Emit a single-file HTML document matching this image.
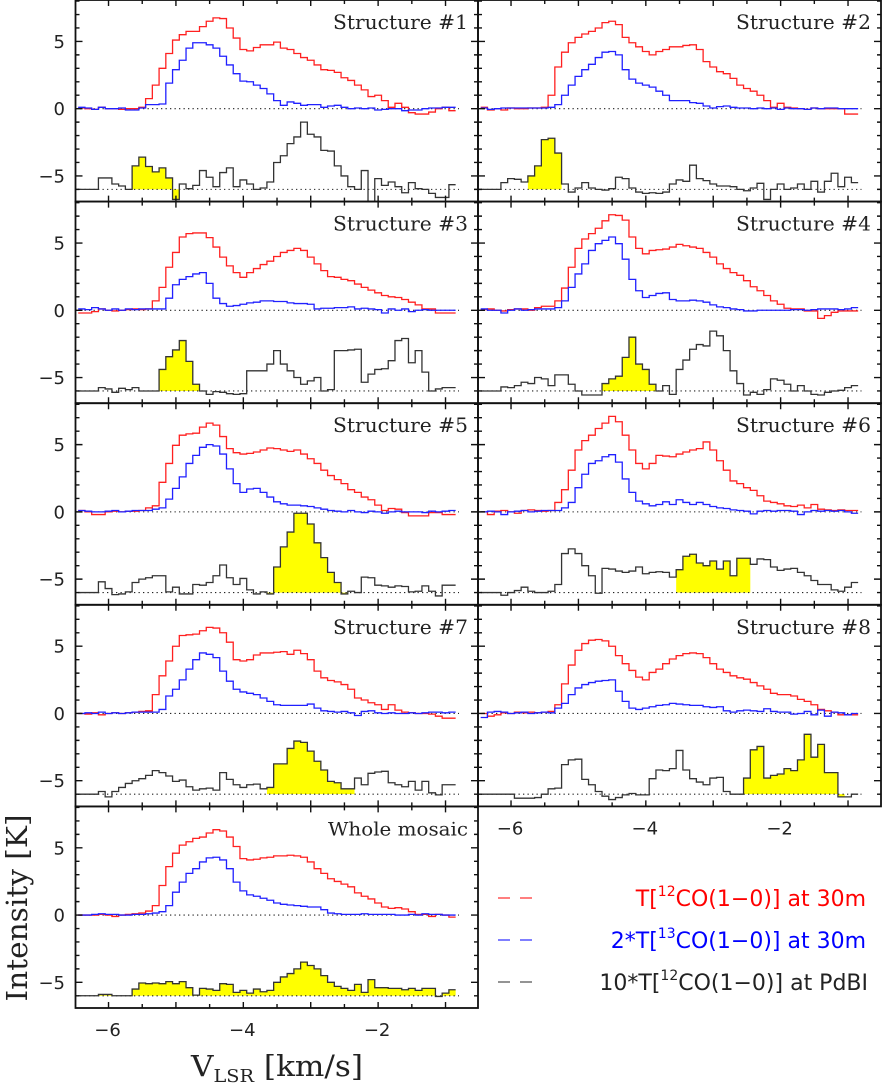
<!DOCTYPE html>
<html><head><meta charset="utf-8"><title>CO spectra</title>
<style>html,body{margin:0;padding:0;background:#fff}svg{display:block}
text{font-family:"DejaVu Sans","Liberation Sans",sans-serif}</style></head>
<body>
<svg id="chart" xmlns="http://www.w3.org/2000/svg" width="883" height="1086" viewBox="0 0 883 1086">
<rect x="0" y="0" width="883" height="1086" fill="#fff"/>
<text transform="translate(27,908) rotate(-90)" text-anchor="middle" font-size="29" textLength="187" lengthAdjust="spacingAndGlyphs" fill="#222" style="font-family:'DejaVu Serif','Liberation Serif',serif">Intensity [K]</text>
<text x="191" y="1076" font-size="29" fill="#222" textLength="172" lengthAdjust="spacingAndGlyphs" style="font-family:'DejaVu Serif','Liberation Serif',serif">V<tspan font-size="18" dy="6">LSR</tspan><tspan dy="-6"> [km/s]</tspan></text>
<g font-size="22">
 <line x1="498" y1="898" x2="532" y2="898" stroke="#f33" stroke-width="1.3" stroke-dasharray="12 10"/>
 <text x="866" y="906" text-anchor="end" fill="#f00">T[<tspan font-size="14" dy="-10">12</tspan><tspan dy="10">CO(1−0)] at 30m</tspan></text>
 <line x1="498" y1="940" x2="532" y2="940" stroke="#33f" stroke-width="1.3" stroke-dasharray="12 10"/>
 <text x="866" y="948" text-anchor="end" fill="#00f">2*T[<tspan font-size="14" dy="-10">13</tspan><tspan dy="10">CO(1−0)] at 30m</tspan></text>
 <line x1="498" y1="982" x2="532" y2="982" stroke="#555" stroke-width="1.3" stroke-dasharray="12 10"/>
 <text x="868" y="990" text-anchor="end" fill="#222">10*T[<tspan font-size="14" dy="-10">12</tspan><tspan dy="10">CO(1−0)] at PdBI</tspan></text>
</g>
</svg>
<script>
// ---- data: channel values (K), channels of 0.1 km/s starting at -6.45 km/s ----
const titles = ["Structure #1","Structure #2","Structure #3","Structure #4","Structure #5","Structure #6","Structure #7","Structure #8","Whole mosaic"];
const yTickLabels = [5, 0, -5];
const xTickLabels = [-6, -4, -2];
const red1 = [0.05,0,-0.05,0.1,0,0,-0.05,0,0,0.1,0.75,1.75,3.0,4.1,5.1,5.5,5.75,5.75,6.1,6.5,6.75,6.7,6.0,5.25,4.4,4.3,4.55,4.75,4.75,4.95,4.5,4.4,4.1,3.8,3.6,3.25,2.9,2.85,2.7,2.3,2.1,1.75,1.4,0.9,1.0,0.6,0.1,0.4,0.1,-0.3,-0.4,-0.4,-0.25,0,0.1,-0.15];
const blue1 = [0.1,0.05,-0.05,0.1,0,0,0.05,-0.1,-0.1,0.05,0.3,0.3,0.35,1.9,2.9,3.6,4.5,4.9,4.9,4.75,4.5,3.9,3.25,2.6,2.05,2.0,1.75,1.5,1.1,0.6,0.25,0.5,0.4,0.25,0.3,0.3,0.1,0.2,0.25,0.1,0,0.05,0,0.05,-0.1,-0.05,0,0,-0.15,-0.1,-0.1,0,0.05,0.05,0.1,0.1];
const pdbi1 = [-6,-6,-6,-5.15,-5.15,-5.6,-5.75,-6,-4.25,-3.6,-4.3,-4.7,-4.4,-5.15,-6.75,-5.6,-5.95,-5.7,-4.6,-5.1,-5.8,-4.75,-4.4,-5.8,-5.3,-5.6,-6,-5.9,-5.45,-4.0,-3.5,-2.6,-2.1,-1.0,-1.9,-2.1,-3.1,-3.15,-4.25,-5.0,-5.8,-6,-4.6,-6.9,-5.2,-5.7,-5.45,-5.8,-6.25,-5.5,-5.95,-6.0,-6.3,-6.6,-6.6,-5.65];
const red2 = [0.1,-0.1,0,-0.1,0.05,0,0,0.05,0.05,0.1,1.0,3.1,4.2,4.9,5.3,5.55,5.75,6.0,6.4,6.5,6.25,5.3,4.9,4.6,4.25,4.0,4.25,4.4,4.6,4.6,4.7,4.75,4.4,3.5,3.1,2.75,2.6,2.25,1.75,1.5,1.3,1.0,0.6,0.1,0.4,0.1,0.05,0,-0.05,0.05,0,0,0,0,-0.4,-0.4];
const blue2 = [0.05,-0.05,0,0.05,0.05,0.05,0.05,0.05,0.05,0.05,0.1,0.3,1.0,1.75,2.4,2.9,3.3,3.8,4.2,4.25,4.0,2.9,2.2,1.9,1.75,1.6,1.3,1.0,0.6,0.6,0.6,0.45,0.4,0.2,0.05,0.15,0.2,0.1,0.05,0.05,0,0.05,0,0.05,-0.05,0.05,0,0,-0.05,0.05,0,0.05,0.05,0,0,0];
const pdbi2 = [-6,-6,-6,-5.5,-5.2,-5.25,-5.45,-5.0,-4.25,-2.3,-2.2,-3.3,-5.6,-6.2,-5.9,-5.5,-5.9,-6.0,-6.05,-5.95,-5.1,-5.2,-5.9,-6.2,-6.3,-6.25,-6.3,-6.2,-5.6,-5.3,-5.4,-4.2,-5.2,-5.35,-5.6,-5.75,-5.75,-5.8,-6.0,-6.1,-5.9,-5.55,-6.75,-6.0,-5.6,-6.0,-5.9,-5.6,-6.0,-5.4,-6.2,-5.4,-4.8,-5.8,-5.1,-5.5];
const red3 = [-0.2,-0.2,-0.1,0.1,0,-0.05,0,0.05,0.1,0.05,0.1,0.7,1.7,3.2,4.3,5.45,5.7,5.75,5.75,5.4,4.7,3.95,3.3,2.8,2.45,2.8,3.1,3.4,3.65,4.0,4.3,4.45,4.6,4.45,3.95,3.45,2.95,2.5,2.45,2.3,2.2,1.95,1.7,1.5,1.3,1.1,1.0,0.95,0.8,0.6,0.4,0.1,0.1,-0.2,-0.2,-0.2];
const blue3 = [0.1,0.05,0.2,0.1,0,0.1,0,0.1,0.05,0.1,0.1,0.1,0.1,0.9,1.9,2.3,2.5,2.7,2.8,2.0,0.9,0.5,0.3,0.35,0.45,0.55,0.6,0.7,0.7,0.65,0.65,0.55,0.5,0.5,0.45,0.1,0.15,0.15,0.2,0.2,0.25,0.1,0.15,0.1,0.05,-0.2,0.1,0,0.1,-0.1,0,0.05,0,0,0,0];
const pdbi3 = [-6,-6,-6,-5.75,-5.85,-6.1,-5.8,-5.9,-5.75,-6,-6,-6,-4.4,-3.45,-2.95,-2.25,-3.8,-5.5,-6,-6.25,-6.05,-6.1,-6.2,-6.25,-6.2,-4.5,-4.5,-4.5,-4.0,-3.0,-4.0,-4.5,-5.0,-5.5,-5.25,-5.0,-6.0,-5.9,-3.0,-3.0,-2.95,-2.9,-5.35,-4.75,-4.4,-4.35,-3.75,-2.25,-2.1,-3.9,-3.0,-4.6,-6.0,-5.85,-5.75,-5.75];
const red4 = [0.05,0.1,0,-0.05,0.05,0.1,0.1,0,0.2,0.3,0.3,0.7,1.65,3.2,4.6,5.3,5.7,6.1,6.65,7.1,7.05,6.7,5.45,4.6,4.2,4.45,4.5,4.55,4.7,4.9,4.8,4.7,4.6,4.3,3.95,3.45,3.1,2.8,2.6,2.2,1.75,1.45,1.1,0.7,0.45,0.15,0.1,0.1,-0.05,-0.05,-0.6,-0.4,-0.15,-0.05,-0.05,-0.05];
const blue4 = [0.1,0,0,-0.2,0,0.1,0,0.05,0.1,0.1,0.1,0.2,0.7,1.7,2.7,3.45,4.45,4.95,5.2,5.45,4.95,3.8,2.3,1.45,0.95,1.1,1.25,1.3,0.8,0.7,0.7,0.75,0.7,0.6,0.4,0.25,0.2,0.1,0.05,-0.05,-0.05,0,0,0,0,0,0.05,0.05,0,0.05,0.1,0.1,0.1,0.05,0.1,0.2];
const pdbi4 = [-6,-6,-6,-5.7,-5.75,-5.6,-5.35,-5.45,-5.0,-5.1,-5.6,-4.8,-4.8,-5.5,-6.0,-6.3,-6.3,-6.3,-5.45,-5.1,-4.9,-3.5,-2.0,-4.0,-4.4,-5.5,-6,-5.6,-6.25,-4.4,-3.7,-2.9,-2.55,-2.65,-1.55,-1.9,-3.0,-4.5,-5.45,-6.3,-6.1,-6.25,-5.9,-5.1,-5.2,-5.5,-6.0,-5.6,-6.0,-6.25,-6.3,-6.1,-6.0,-5.95,-5.75,-5.6];
const red5 = [0.1,0,-0.2,-0.2,0,0.05,0,0.05,0.05,0.1,0.3,0.45,2.2,3.6,4.95,5.7,5.8,5.85,6.3,6.6,6.45,5.6,4.7,4.4,4.3,4.35,4.45,4.6,4.75,4.7,4.6,4.5,4.6,4.3,3.95,3.6,3.1,2.7,2.4,2.1,1.65,1.45,1.1,0.9,0.5,0.1,0.25,0.2,-0.05,-0.3,-0.3,-0.3,-0.05,-0.05,-0.2,-0.2];
const blue5 = [0.1,0.05,0,0,0.05,0.1,0,0.05,0.1,0.1,0.1,0.2,0.3,0.95,1.75,2.6,3.6,4.2,4.8,5.0,4.9,4.3,3.2,2.1,1.45,1.7,1.75,1.45,1.1,0.75,0.6,0.5,0.5,0.45,0.4,0.3,0.2,0.1,0.05,0,0.1,0,-0.05,0.05,0,-0.1,0,0.05,0,0,0,-0.05,0.05,0,0.05,0.1];
const pdbi5 = [-6,-6,-6,-5.2,-5.7,-6.15,-6.1,-5.95,-5.25,-5.0,-4.9,-4.75,-4.75,-5.95,-5.6,-6.1,-6.1,-5.4,-5.45,-5.25,-4.75,-3.95,-4.9,-5.4,-4.95,-5.8,-6.1,-5.95,-6.1,-4.1,-2.6,-1.5,-0.1,-0.1,-0.9,-2.3,-3.4,-4.5,-5.25,-6.1,-5.9,-6.0,-4.85,-4.9,-5.45,-5.5,-5.6,-5.5,-5.55,-5.95,-5.9,-5.5,-5.9,-6.25,-5.45,-5.45];
const red6 = [0,-0.2,0.05,0.1,0,-0.1,0.1,0.15,0.1,0.05,0.1,0.7,1.65,3.1,4.6,5.3,5.7,6.2,6.6,7.1,6.7,5.7,4.6,3.6,3.2,3.6,4.2,4.15,4.1,4.3,4.45,4.6,4.7,5.2,4.6,3.8,3.1,2.3,2.1,1.8,1.6,1.2,0.8,0.7,0.6,0.45,0.4,0.5,0.3,0.55,0.2,0.15,0.1,0.15,0.1,0.1];
const blue6 = [0,0.05,0,-0.2,0,0.05,0.1,0,0.05,0.1,0.1,0.1,0.3,0.7,1.8,2.8,3.6,3.8,4.1,4.25,3.7,2.45,1.45,0.8,0.6,0.45,0.55,0.75,0.55,0.9,0.7,0.55,0.7,0.55,0.4,0.3,0.25,0.15,0.1,0.05,-0.15,0.05,0.1,0.05,0.1,0.1,0.05,-0.2,0,0.1,0.05,0.1,0.05,0.1,0,-0.1];
const pdbi6 = [-6,-6,-6,-6.2,-6.0,-5.85,-5.6,-5.9,-6.0,-6.0,-5.9,-5.4,-3.1,-2.75,-3.1,-4.0,-4.75,-6.05,-4.2,-4.25,-4.4,-4.5,-4.4,-4.1,-4.6,-4.5,-4.45,-4.5,-4.85,-4.3,-3.3,-3.15,-3.8,-4.0,-3.65,-4.25,-3.65,-4.75,-3.45,-3.45,-3.9,-3.5,-3.55,-4.1,-4.35,-4.25,-4.2,-4.5,-4.75,-5.1,-5.4,-5.4,-5.8,-5.9,-5.6,-5.25];
const red7 = [0,-0.05,0.05,-0.1,0,0.05,0,0.05,0.1,0.15,0.2,1.4,2.8,3.9,5.0,5.8,5.85,5.9,6.15,6.4,6.35,6.0,5.3,4.0,3.9,4.0,4.35,4.5,4.5,4.55,4.6,4.4,4.7,4.45,4.0,3.15,2.65,2.45,2.35,2.15,1.8,1.15,1.0,0.8,0.65,0.3,0.65,0.25,0.1,0.05,0,0,-0.05,-0.2,-0.35,-0.35];
const blue7 = [0,0.05,0,0.1,0,0.05,0,0.05,0.1,0.1,0.1,0.1,0.3,1.3,1.8,2.5,3.3,4.0,4.5,4.4,4.15,3.15,2.4,1.8,1.6,1.5,1.4,1.15,0.9,0.65,0.6,0.6,0.6,0.6,0.7,0.4,0.2,0.15,0.1,0.15,0.05,-0.15,0.15,0.2,0.05,0,0.05,0,0,0.05,0,0.05,0.1,0.1,0.05,0.1];
const pdbi7 = [-6,-6,-6,-5.8,-6.2,-5.8,-5.5,-5.2,-5.0,-4.85,-4.6,-4.25,-4.4,-4.65,-5.05,-4.95,-5.45,-5.7,-5.6,-5.55,-5.7,-4.4,-4.9,-5.3,-5.5,-5.3,-5.25,-5.6,-5.5,-3.75,-3.75,-2.6,-2.05,-2.15,-2.8,-3.55,-4.2,-5.05,-5.15,-5.6,-5.6,-4.8,-5.3,-4.45,-4.35,-4.3,-5.15,-5.3,-5.45,-5.05,-5.7,-5.05,-5.9,-6.05,-5.3,-5.3];
const red8 = [0,-0.2,-0.1,0.05,0,0.1,0.05,0.1,0.05,0.1,0.15,0.65,2.2,3.6,4.7,5.2,5.45,5.5,5.4,5.0,4.3,3.7,3.2,2.7,2.5,3.05,3.3,3.7,4.05,4.3,4.45,4.5,4.45,4.15,3.7,3.3,3.05,2.8,2.65,2.55,2.3,2.05,1.8,1.5,1.4,1.4,1.3,1.05,0.9,0.65,0.3,0.2,0.1,-0.1,-0.1,-0.1];
const blue8 = [-0.3,0.1,0.15,0.1,0,0.05,0.1,0,0.05,0.1,0.05,0.4,0.75,1.4,1.9,2.15,2.3,2.4,2.45,2.5,1.65,0.9,0.4,0.3,0.4,0.5,0.6,0.65,0.75,0.7,0.65,0.6,0.6,0.5,0.45,0.5,0.2,0.1,0.2,0.25,0.2,0.15,0.35,0.15,0.1,0.1,-0.05,0,0.15,-0.1,0.25,-0.2,0.1,0.05,-0.1,0];
const pdbi8 = [-6,-6,-6,-6,-6,-6.3,-6.3,-6.3,-6.25,-6.0,-5.6,-5.55,-3.8,-3.45,-3.4,-4.9,-5.3,-5.8,-6.15,-6.4,-6.25,-6.05,-5.95,-6.05,-6.05,-4.85,-4.2,-4.25,-4.1,-2.75,-4.2,-4.85,-5.1,-5.3,-4.8,-4.75,-5.8,-6.0,-6.0,-4.8,-2.7,-2.45,-4.8,-4.6,-4.5,-4.1,-4.25,-3.45,-1.55,-3.25,-2.3,-4.4,-4.4,-6.2,-6.2,-6.0];
const redAll = [0,0,0,0.05,0,-0.1,0,0.05,0.1,0.15,0.3,0.7,2.2,3.6,4.6,5.2,5.45,5.7,5.8,6.1,6.35,6.25,5.8,5.1,4.2,4.1,4.15,4.25,4.3,4.4,4.4,4.45,4.4,4.3,3.95,3.45,3.1,2.7,2.5,2.3,2.1,1.65,1.4,1.2,0.9,0.6,0.5,0.55,0.45,0.25,0.05,0.05,-0.1,0.05,0,-0.15];
const blueAll = [0,0,0.05,0.1,0.05,0.05,0,0,0.05,0.05,0.1,0.15,0.25,0.7,1.7,2.45,3.1,3.45,3.95,4.25,4.3,4.1,3.45,2.45,1.8,1.5,1.4,1.25,1.1,0.9,0.8,0.75,0.7,0.65,0.6,0.6,0.4,0.15,0.1,0.05,0.05,0.05,0.1,0.05,0.05,0.05,0.05,0,0,0.05,0,0.1,0.05,0.05,0,0];
const pdbiAll = [-6,-6,-6,-5.9,-5.9,-6.0,-6.0,-6.0,-5.5,-5.05,-5.1,-5.05,-5.1,-4.95,-5.1,-4.95,-5.4,-5.95,-5.45,-5.5,-5.6,-5.1,-5.15,-5.75,-5.6,-5.8,-5.5,-5.7,-5.6,-5.0,-4.6,-4.35,-4.0,-3.5,-3.75,-4.0,-4.5,-5.0,-5.3,-5.45,-5.6,-5.15,-5.75,-4.8,-5.4,-5.4,-5.45,-5.45,-5.55,-5.45,-5.6,-5.45,-5.45,-6.05,-5.8,-5.55];
// highlighted (yellow) channel ranges [first, last]
const hlStart = [8, 7, 11, 18, 28, 29, 28, 39, 3];
const hlEnd = [14, 11, 17, 25, 39, 39, 40, 53, 55];
const redSeries = [red1, red2, red3, red4, red5, red6, red7, red8, redAll];
const blueSeries = [blue1, blue2, blue3, blue4, blue5, blue6, blue7, blue8, blueAll];
const pdbiSeries = [pdbi1, pdbi2, pdbi3, pdbi4, pdbi5, pdbi6, pdbi7, pdbi8, pdbiAll];
const V0 = -6.45, DV = 0.1, BASE = -6;

// ---- layout ----
const NS = 'http://www.w3.org/2000/svg';
const svg = document.getElementById('chart');
const COLX = [75.5, 478], PW = [402.5, 403], PH = 201.6, PXU = 67.4, VMIN = -6.49, YMAX = 8.08, PYU = 13.45;
function el(tag, attrs, parent) { const e = document.createElementNS(NS, tag); for (const k in attrs) e.setAttribute(k, attrs[k]); (parent || svg).appendChild(e); return e; }
function xs(v, col) { return COLX[col] + (v - VMIN) * PXU; }
function ys(v, row) { return row * PH + (YMAX - v) * PYU; }
function edge(k) { return V0 + k * DV; }
function stepPath(arr, col, row) {
  let d = 'M' + xs(edge(0), col).toFixed(2) + ' ' + ys(arr[0], row).toFixed(2);
  for (let k = 0; k < arr.length; k++) {
    d += 'H' + xs(edge(k + 1), col).toFixed(2);
    if (k + 1 < arr.length) d += 'V' + ys(arr[k + 1], row).toFixed(2);
  }
  return d;
}
function fillPath(arr, a, b, col, row) {
  let d = 'M' + xs(edge(a), col).toFixed(2) + ' ' + ys(BASE, row).toFixed(2);
  for (let k = a; k <= b; k++) d += 'V' + ys(arr[k], row).toFixed(2) + 'H' + xs(edge(k + 1), col).toFixed(2);
  d += 'V' + ys(BASE, row).toFixed(2) + 'Z';
  return d;
}

for (let p = 0; p < 9; p++) {
  const col = p === 8 ? 0 : p % 2, row = p === 8 ? 4 : Math.floor(p / 2);
  const g = el('g', {});
  
  
  const x0 = COLX[col], y0 = row * PH, w = PW[col];
  const cp = el('clipPath', { id: 'cp' + p }, g);
  el('rect', { x: x0, y: y0, width: w, height: PH }, cp);
  const inner = el('g', { 'clip-path': 'url(#cp' + p + ')' }, g);
  const fill = el('path', { d: fillPath(pdbiSeries[p], hlStart[p], hlEnd[p], col, row), fill: '#ffff00', stroke: 'none' }, inner);
  
  
  [0, BASE].forEach(function (lv) {
    const dl = el('line', { x1: x0, x2: xs(-0.8, col), y1: ys(lv, row), y2: ys(lv, row), stroke: '#222', 'stroke-width': 1.1, 'stroke-dasharray': '1.3 3.2' }, inner);
    
    
  });
  const rp = el('path', { d: stepPath(redSeries[p], col, row), fill: 'none', stroke: '#ff2020', 'stroke-width': 1.3 }, inner);
  
  
  const bp = el('path', { d: stepPath(blueSeries[p], col, row), fill: 'none', stroke: '#2020ff', 'stroke-width': 1.3 }, inner);
  
  
  const kp = el('path', { d: stepPath(pdbiSeries[p], col, row), fill: 'none', stroke: '#333', 'stroke-width': 1.3 }, inner);
  
  
  let td = '';
  for (let v = -6; v <= 8; v++) {
    const L = (v % 5 === 0) ? 7 : 4, y = ys(v, row);
    if (y <= y0 + 1 || y >= y0 + PH - 1) continue;
    td += 'M' + x0 + ' ' + y + 'h' + L + 'M' + (x0 + w) + ' ' + y + 'h' + (-L);
  }
  for (let v = -6.5; v <= -0.5; v += 0.5) {
    const x = xs(v, col), L = (Math.abs(v - Math.round(v)) < 0.01) ? 6 : 4;
    if (x <= x0 + 1 || x >= x0 + w - 1) continue;
    td += 'M' + x + ' ' + y0 + 'v' + L + 'M' + x + ' ' + (y0 + PH) + 'v' + (-L);
  }
  const tk = el('path', { d: td, stroke: '#111', 'stroke-width': 1.4, fill: 'none' }, g);
  
  
  const fr = el('rect', { x: x0, y: y0, width: w, height: PH, fill: 'none', stroke: '#111', 'stroke-width': 1.8 }, g);
  
  
  const t = el('text', { x: x0 + w - 10, y: y0 + 29, 'text-anchor': 'end', 'font-size': p === 8 ? 19 : 20, fill: '#222', textLength: p === 8 ? 140 : 135, lengthAdjust: 'spacingAndGlyphs', style: "font-family:'DejaVu Serif','Liberation Serif',serif" }, g);
  t.textContent = titles[p];
  
  
  if (col === 0) {
    yTickLabels.forEach(function (v) {
      const lt = el('text', { x: 65, y: ys(v, row) + 6.5, 'text-anchor': 'end', 'font-size': 18, fill: '#222' }, g);
      lt.textContent = v < 0 ? '\u2212' + Math.abs(v) : String(v);
      
      
    });
  }
  if (p === 8 || p === 7) {
    xTickLabels.forEach(function (v) {
      const lx = el('text', { x: xs(v, col) - 1, y: y0 + PH + 28, 'text-anchor': 'middle', 'font-size': 18, fill: '#222' }, g);
      lx.textContent = '\u2212' + Math.abs(v);
      
      
    });
  }
}
</script>
</body></html>
